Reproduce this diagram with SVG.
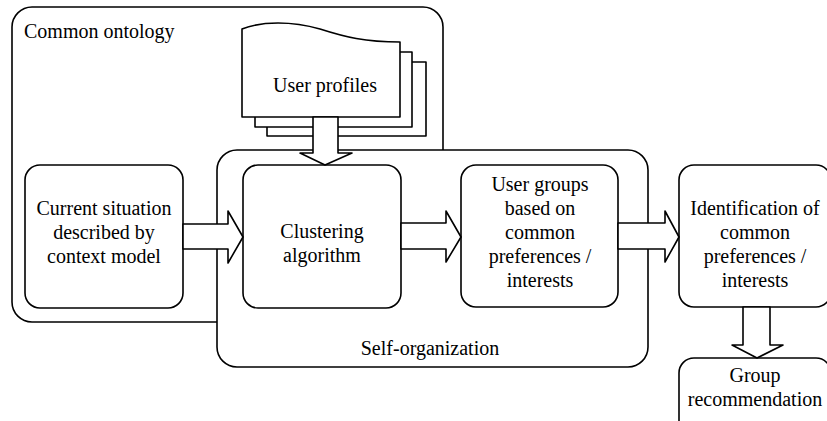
<svg xmlns="http://www.w3.org/2000/svg" width="827" height="421" viewBox="0 0 827 421">
<style>
.b{fill:#fff;stroke:#000;stroke-width:1.6;stroke-linejoin:round}
.t{fill:#000;text-anchor:middle}
</style>
<rect width="827" height="421" fill="#fff"/>
<g id="common-ontology">
<rect class="b" x="12" y="7" width="431" height="315" rx="20"/>
<text x="24" y="38" font-size="20" font-family="Liberation Serif, Times New Roman, serif">Common ontology</text>
</g>
<g id="self-organization">
<rect class="b" x="217" y="150" width="431" height="217" rx="20"/>
<text class="t" x="430" y="355" font-size="20" font-family="Liberation Serif, Times New Roman, serif">Self-organization</text>
</g>
<g id="user-profiles">
<rect class="b" x="267" y="62" width="159" height="74"/>
<rect class="b" x="255" y="52" width="157" height="75"/>
<path class="b" d="M242,29 C262,21 292,21 320,29 C345,37 365,42 400,42 L400,117 L242,117 Z"/>
<text class="t" x="325" y="92" font-size="20" font-family="Liberation Serif, Times New Roman, serif">User profiles</text>
</g>
<g id="current-situation">
<rect class="b" x="25" y="165" width="158" height="143" rx="15"/>
<g font-size="20" font-family="Liberation Serif, Times New Roman, serif">
<text class="t" x="104" y="215">Current situation</text>
<text class="t" x="104" y="239">described by</text>
<text class="t" x="104" y="263">context model</text>
</g>
</g>
<g id="clustering">
<rect class="b" x="243" y="165" width="158" height="143" rx="15"/>
<g font-size="20" font-family="Liberation Serif, Times New Roman, serif">
<text class="t" x="322" y="238">Clustering</text>
<text class="t" x="322" y="262">algorithm</text>
</g>
</g>
<g id="user-groups">
<rect class="b" x="461" y="165" width="157" height="142" rx="15"/>
<g font-size="20" font-family="Liberation Serif, Times New Roman, serif">
<text class="t" x="540" y="191">User groups</text>
<text class="t" x="540" y="215">based on</text>
<text class="t" x="540" y="239">common</text>
<text class="t" x="540" y="263">preferences /</text>
<text class="t" x="540" y="287">interests</text>
</g>
</g>
<g id="identification">
<rect class="b" x="679" y="165" width="152" height="142" rx="15"/>
<g font-size="20" font-family="Liberation Serif, Times New Roman, serif">
<text class="t" x="755" y="215">Identification of</text>
<text class="t" x="755" y="239">common</text>
<text class="t" x="755" y="263">preferences /</text>
<text class="t" x="755" y="287">interests</text>
</g>
</g>
<g id="group-recommendation">
<rect class="b" x="679" y="358" width="152" height="90" rx="15"/>
<g font-size="20" font-family="Liberation Serif, Times New Roman, serif">
<text class="t" x="755" y="382">Group</text>
<text class="t" x="755" y="406">recommendation</text>
</g>
</g>
<g id="connectors">
<polygon class="b" points="313,117 338,117 338,153 352,153 325,165 300,153 313,153"/>
<polygon class="b" points="183,224 228,224 228,211 243,237 228,263 228,249 183,249"/>
<polygon class="b" points="401,223 446,223 446,211 461,237 446,262 446,249 401,249"/>
<polygon class="b" points="618,223 665,223 665,211 679,237 665,262 665,249 618,249"/>
<polygon class="b" points="743,307 770,307 770,345 783,345 757,358 732,345 743,345"/>
</g>
</svg>
